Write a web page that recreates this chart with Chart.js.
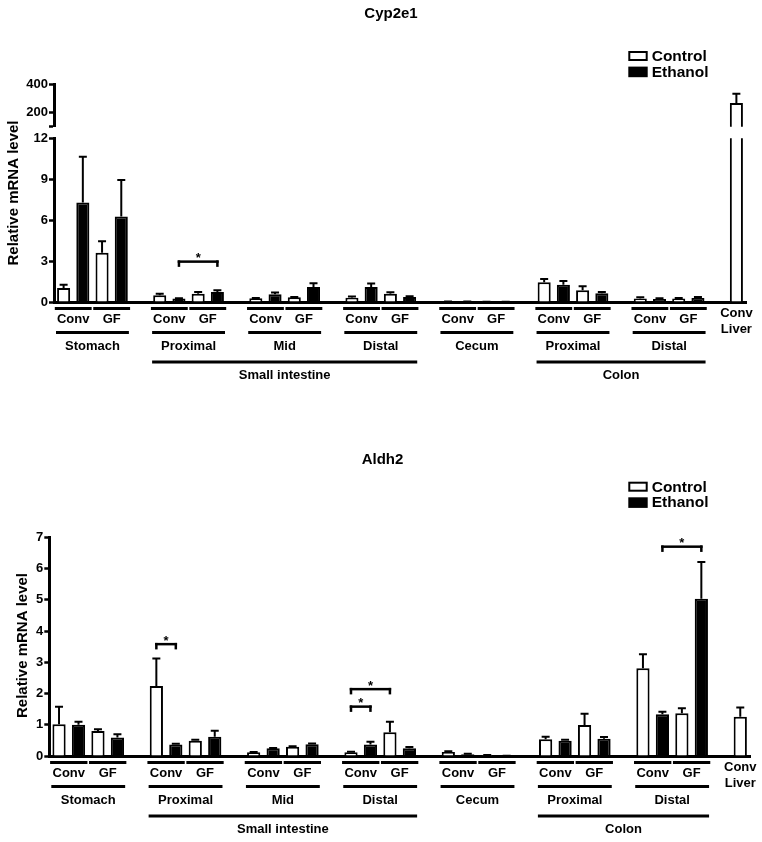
<!DOCTYPE html>
<html lang="en">
<head>
  <meta charset="UTF-8" />
  <title>Cyp2e1 / Aldh2 mRNA</title>
  <script src="https://cdn.jsdelivr.net/npm/chart.js"></script>
  <style>
    body { margin: 0; background: #fff; }
    #page { position: relative; width: 762px; height: 842px; }
    .panel { position: absolute; left: 0; width: 762px; }
    .panel canvas { position: absolute; left: 0; top: 0; }
  </style>
</head>
<body>
  <div id="page">
    <div class="panel" style="top:0;height:400px">
      <canvas id="cypLow" width="762" height="400"></canvas>
      <canvas id="cypHigh" width="762" height="400"></canvas>
    </div>
    <div class="panel" style="top:420px;height:422px">
      <canvas id="aldh2" width="762" height="422"></canvas>
    </div>
  </div>

  <script>
    // categories
    const regions = ['Stomach', 'Proximal', 'Mid', 'Distal', 'Cecum', 'Proximal', 'Distal'];
    const housings = ['Conv', 'GF'];
    const sections = [
      { name: 'Small intestine', from: 1, to: 3 },
      { name: 'Colon', from: 5, to: 6 }
    ];
    const liverLabel = ['Conv', 'Liver'];
    const yTitle = 'Relative mRNA level';

    // Cyp2e1: mean and SEM, per region Conv then GF
    const cypControl    = [1.02, 3.61, 0.49, 0.61, 0.27, 0.34, 0.32, 0.61, 0.03, 0.01, 1.44, 0.86, 0.25, 0.25];
    const cypControlSem = [0.25, 0.85, 0.12, 0.12, 0.03, 0.03, 0.08, 0.10, 0.01, 0.01, 0.24, 0.29, 0.09, 0.05];
    const cypEthanol    = [7.29, 6.26, 0.25, 0.73, 0.56, 1.10, 1.10, 0.37, 0.02, 0.01, 1.27, 0.64, 0.22, 0.30];
    const cypEthanolSem = [3.36, 2.69, 0.02, 0.13, 0.13, 0.27, 0.25, 0.05, 0.01, 0.01, 0.27, 0.09, 0.06, 0.07];
    const cypLiver = 266, cypLiverSem = 66;

    // Aldh2
    const aldControl    = [1.02, 0.80, 2.24, 0.49, 0.12, 0.30, 0.12, 0.76, 0.13, 0.03, 0.54, 0.99, 2.81, 1.37];
    const aldControlSem = [0.56, 0.06, 0.88, 0.03, 0.01, 0.01, 0.02, 0.34, 0.02, 0.00, 0.08, 0.36, 0.45, 0.16];
    const aldEthanol    = [1.00, 0.59, 0.37, 0.62, 0.25, 0.38, 0.37, 0.25, 0.06, 0.01, 0.49, 0.55, 1.34, 5.03];
    const aldEthanolSem = [0.10, 0.11, 0.02, 0.19, 0.01, 0.02, 0.09, 0.04, 0.01, 0.00, 0.03, 0.06, 0.08, 1.18];
    const aldLiver = 1.26, aldLiverSem = 0.29;

    // y ticks (broken axis for Cyp2e1)
    const cypHighTicks = [100, 200, 400];
    const cypHighLabels = ['', '200', '400'];
    const cypLowTicks = [0, 3, 6, 9, 12];
    const aldTicks = [0, 1, 2, 3, 4, 5, 6, 7];

    // significance brackets: [first slot, last slot, height]
    const cypBrackets = [[6, 8, 2.96]];
    const aldBrackets = [[5, 6, 3.58], [15, 16, 1.58], [15, 17, 2.14], [31, 33, 6.70]];

    const FONT = '"Liberation Sans", Arial, sans-serif';
    Chart.defaults.font.family = FONT;
    Chart.defaults.color = '#000';

    // 4 bars + 1 gap per region, then the liver bar
    const SLOTS = regions.length * 5 + 1;
    const labels = [];
    regions.forEach((r, i) => {
      const sec = sections.find(s => i >= s.from && i <= s.to);
      const full = sec ? sec.name + ' ' + r : r;
      housings.forEach(h => labels.push(full + ' ' + h + ' Control', full + ' ' + h + ' Ethanol'));
      labels.push(full + ' -');
    });
    labels.push(liverLabel.join(' '));

    function place(values, treatment, liver) {
      const out = new Array(SLOTS).fill(null);
      values.forEach((v, k) => { out[5 * Math.floor(k / 2) + 2 * (k % 2) + treatment] = v; });
      if (liver !== undefined) out[SLOTS - 1] = liver;
      return out;
    }

    function datasets(ctrl, ctrlSem, eth, ethSem, liver, liverSem) {
      const bar = { borderColor: '#000', borderWidth: 2, borderSkipped: 'start', grouped: false,
                    barPercentage: 0.68, categoryPercentage: 1 };
      return [
        Object.assign({ label: 'Control', data: place(ctrl, 0, liver), sem: place(ctrlSem, 0, liverSem), backgroundColor: '#fff' }, bar),
        Object.assign({ label: 'Ethanol', data: place(eth, 1), sem: place(ethSem, 1), backgroundColor: '#000' }, bar)
      ];
    }

    function yAxis(min, max, ticks, tickLabels, width) {
      return {
        min, max,
        afterBuildTicks: s => { s.ticks = ticks.map(v => ({ value: v })); },
        afterFit: s => { s.width = width; },
        border: { display: true, width: 3, color: '#000' },
        grid: { display: true, drawOnChartArea: false, drawTicks: true, tickLength: 5, tickWidth: 2.5, tickColor: '#000' },
        ticks: { padding: 1, color: '#000', font: { size: 13, weight: 'bold' }, callback: (v, i) => tickLabels[i] }
      };
    }

    function xAxis(show) {
      return {
        type: 'category', offset: true, display: show,
        afterFit: s => { s.height = 0; },
        ticks: { display: false },
        grid: { display: false },
        border: { display: true, width: 3, color: '#000' }
      };
    }

    // one-sided SEM whiskers
    const errorBars = {
      id: 'errorBars',
      afterDatasetsDraw(chart) {
        const { ctx, chartArea: a, scales: { y } } = chart;
        ctx.save();
        ctx.beginPath();
        ctx.rect(a.left, a.top - 1, a.right - a.left, a.bottom - a.top + 1);
        ctx.clip();
        ctx.strokeStyle = '#000';
        ctx.lineWidth = 2;
        chart.data.datasets.forEach((ds, i) => {
          chart.getDatasetMeta(i).data.forEach((bar, k) => {
            const v = ds.data[k];
            if (v == null) return;
            const top = y.getPixelForValue(v + ds.sem[k]);
            ctx.beginPath();
            ctx.moveTo(bar.x, bar.y);
            ctx.lineTo(bar.x, top);
            ctx.moveTo(bar.x - 4, top);
            ctx.lineTo(bar.x + 4, top);
            ctx.stroke();
          });
        });
        ctx.restore();
      }
    };

    // title, legend, axis title, brackets and the category rows below the axis
    function decoration(cfg) {
      return {
        id: 'deco',
        afterDraw(chart) {
          const { ctx, chartArea: a, scales: { x, y } } = chart;
          const edge = i => x.getPixelForValue(i - 0.5);
          const hline = (x1, x2, yy, w) => ctx.fillRect(x1, yy - w / 2, x2 - x1, w);
          ctx.save();
          ctx.fillStyle = '#000';
          ctx.strokeStyle = '#000';
          ctx.textAlign = 'center';
          ctx.textBaseline = 'middle';

          ctx.font = 'bold 15px ' + FONT;
          ctx.fillText(cfg.title, cfg.titleX, cfg.titleY);

          const lx = cfg.legendX, ly = cfg.legendY;
          ctx.lineWidth = 2;
          ctx.strokeRect(lx + 1, ly + 1, 17.4, 8);
          ctx.fillRect(lx, ly + 15.6, 19.4, 10.6);
          ctx.font = 'bold 15.5px ' + FONT;
          ctx.textAlign = 'left';
          ctx.fillText('Control', lx + 23.4, ly + 5.7);
          ctx.fillText('Ethanol', lx + 23.4, ly + 21.3);

          ctx.save();
          ctx.translate(cfg.yTitleX, cfg.yTitleY);
          ctx.rotate(-Math.PI / 2);
          ctx.textAlign = 'center';
          ctx.font = 'bold 15px ' + FONT;
          ctx.fillText(yTitle, 0, 0);
          ctx.restore();

          ctx.textAlign = 'center';
          ctx.textBaseline = 'alphabetic';
          ctx.font = 'bold 13px ' + FONT;
          cfg.brackets.forEach(([s1, s2, v]) => {
            const x1 = x.getPixelForValue(s1), x2 = x.getPixelForValue(s2), yy = y.getPixelForValue(v);
            hline(x1 - 1.25, x2 + 1.25, yy, 2.5);
            ctx.fillRect(x1 - 1.25, yy - 1.25, 2.5, 6.5);
            ctx.fillRect(x2 - 1.25, yy - 1.25, 2.5, 6.5);
            ctx.fillText('*', (x1 + x2) / 2, yy + 0.5);
          });

          const b = a.bottom;
          ctx.textBaseline = 'middle';
          regions.forEach((r, i) => {
            housings.forEach((h, g) => {
              const s = 5 * i + 2 * g;
              hline(edge(s) + 0.8, edge(s + 2) - 0.8, b + 6.5, 3);
              ctx.fillText(h, edge(s + 1), b + 17);
            });
            hline(edge(5 * i) + 2, edge(5 * i + 4) - 2, b + 30.5, 3);
            ctx.fillText(r, edge(5 * i + 2), b + 44);
          });
          sections.forEach(sec => {
            const x1 = edge(5 * sec.from) + 2, x2 = edge(5 * sec.to + 4) - 2;
            hline(x1, x2, b + 60, 3);
            ctx.fillText(sec.name, (x1 + x2) / 2, b + 73.5);
          });
          const lv = x.getPixelForValue(SLOTS - 1);
          ctx.fillText(liverLabel[0], lv, b + 11);
          ctx.fillText(liverLabel[1], lv, b + 27);
          ctx.restore();
        }
      };
    }

    function makeChart(id, data, y, showX, padding, extra) {
      return new Chart(document.getElementById(id), {
        type: 'bar',
        data: { labels, datasets: data },
        options: {
          responsive: false,
          animation: false,
          layout: { padding },
          scales: { x: xAxis(showX), y },
          plugins: { legend: { display: false }, tooltip: { enabled: false } }
        },
        plugins: extra ? [errorBars, extra] : [errorBars]
      });
    }

    const cypData = () => datasets(cypControl, cypControlSem, cypEthanol, cypEthanolSem, cypLiver, cypLiverSem);

    // Cyp2e1, lower segment 0-12
    makeChart('cypLow', cypData(),
      yAxis(0, 12, cypLowTicks, cypLowTicks.map(String), 54), true,
      { left: 0, right: 16, top: 138.3, bottom: 98 },
      decoration({ title: 'Cyp2e1', titleX: 391, titleY: 14, legendX: 628.3, legendY: 51,
                   yTitleX: 13.7, yTitleY: 193, brackets: cypBrackets }));

    // Cyp2e1, upper segment 100-400
    makeChart('cypHigh', cypData(),
      yAxis(100, 400, cypHighTicks, cypHighLabels, 54), false,
      { left: 0, right: 16, top: 84, bottom: 273.3 });

    // Aldh2
    makeChart('aldh2', datasets(aldControl, aldControlSem, aldEthanol, aldEthanolSem, aldLiver, aldLiverSem),
      yAxis(0, 7, aldTicks, aldTicks.map(String), 49.3), true,
      { left: 0, right: 12, top: 117.3, bottom: 86 },
      decoration({ title: 'Aldh2', titleX: 382.5, titleY: 40, legendX: 628.3, legendY: 61.7,
                   yTitleX: 23, yTitleY: 225.5, brackets: aldBrackets }));
  </script>
</body>
</html>
